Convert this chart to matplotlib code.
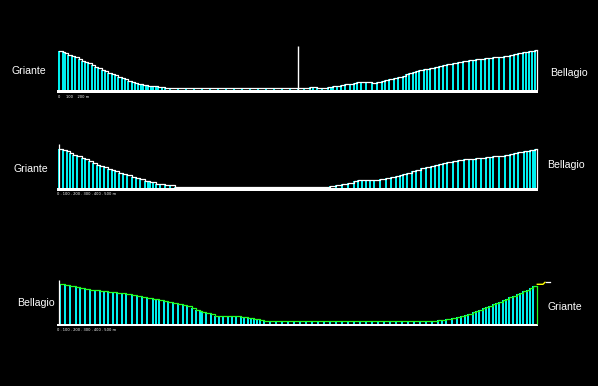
import matplotlib.pyplot as plt

# Sezioni batimetriche Griante - Bellagio (distanza in px, profondita' relativa)
p1_x = [0.7, 4.7, 7.3, 10.3, 13.7, 17.3, 20.7, 23.7, 27, 30.3, 33.7, 37, 40.3, 43.7, 47, 50.3,
        53.7, 57, 60.3, 63.7, 67, 70.3, 73.7, 77, 80.3, 82.8, 85.3, 87.8, 90.3, 92.6, 95, 97.6,
        100.3, 103.6, 107,
        112, 120, 128, 136, 144, 152, 160, 168, 176, 184, 192, 200, 208, 216, 224, 232, 240, 246,
        252, 255.3, 258.7, 264, 270, 272.5, 275, 278.8, 282.7, 287, 291.5, 296, 298.7, 303, 308,
        313.7, 318.7, 323.7, 327, 331, 336, 340.3, 344.7, 348, 351.3, 354.7, 358, 361.3, 366, 369,
        372, 377, 381.3, 385.3, 389.3, 394.7, 400.3, 405.3, 411.3, 414.6, 418, 422.5, 427, 431,
        435.3, 440.6, 446, 452, 456, 460.3, 465.3, 468.3, 471.3, 474.2, 477]
p1_h = [39, 38, 36.7, 35.3, 34, 32.7, 31.3, 29.3, 28, 26.7, 25, 23.3, 21.7, 20.3, 18.7, 17.3,
        16, 14.7, 13.3, 12, 10.7, 9.3, 8, 7, 6, 6, 5, 5, 4.3, 4.3, 3.7, 3.7,
        3, 3, 2,
        1.7, 1.7, 1.7, 1.7, 1.7, 1.7, 1.7, 1.7, 1.7, 1.7, 1.7, 1.7, 1.7, 1.7, 1.7, 1.7, 1.7, 1.7,
        2.7, 2.7, 1.7, 1.7, 3, 3, 4, 4, 5, 6, 6, 7, 8, 8, 8,
        7, 8, 9, 10, 11, 12, 13, 14.3, 15.7, 16.7, 18, 19, 20, 21, 21,
        22, 23, 24, 25, 26, 26.7, 27.7, 28.7, 29.7, 29.7, 30.7, 30.7, 31.7, 31.7,
        33, 33, 34, 35, 36, 37, 38, 38, 39, 39, 40]
p1_end = 479.3
p1_spike_x = [240.3]
p1_spike_h = [44]

p2_x = [0.7, 5.3, 8.7, 12, 15.3, 19.3, 23.7, 27, 31.3, 35.3, 38.7, 42, 46, 50.3, 53.7, 57,
        61.3, 65.3, 69.3, 73.7, 78, 82, 87, 89.5, 92, 95, 98, 102, 107, 112,
        117, 125, 133, 141, 149, 157, 165, 173, 181, 189, 197, 205, 213, 221, 229, 237, 245, 253,
        261, 266,
        272, 278, 284, 290, 296, 300, 304, 308, 312, 316, 322, 328, 333, 338, 342, 345.3, 349.3,
        353.7, 358, 362.7, 368, 372.7, 377, 381.3, 385.3, 389.3, 394.7, 400.3, 406, 411.3, 414.6,
        418, 423, 428, 431.5, 435.3, 441, 447, 452, 456, 460.3, 466, 469, 472, 474.5, 477]
p2_h = [39, 38, 37, 35.7, 33.7, 32.3, 30.3, 29, 27.7, 25.7, 23.7, 22.3, 21, 19.7, 18.3, 17,
        15.7, 14.3, 13, 11.7, 10.3, 9, 7.7, 7.7, 6.3, 6.3, 4.7, 4.7, 3, 3,
        1.6, 1.6, 1.6, 1.6, 1.6, 1.6, 1.6, 1.6, 1.6, 1.6, 1.6, 1.6, 1.6, 1.6, 1.6, 1.6, 1.6, 1.6,
        1.6, 1.6,
        2.5, 3.5, 4.5, 5.5, 7, 8, 8, 8, 8, 8, 9, 10, 11, 12, 13, 14.3, 15.7,
        17, 18.7, 20, 21, 22, 23, 24, 25, 26, 27, 28, 29, 29.7, 29.7,
        30.7, 30.7, 31.7, 31.7, 32.7, 32.7, 33.7, 34.7, 35.7, 36.7, 37.7, 37.7, 38.7, 38.7, 39.7]
p2_end = 479.3

p3_x = [2, 7, 12, 18, 22, 27, 32, 37, 42, 46, 50, 54.5, 59, 63.5, 68, 74, 79, 84, 89, 95, 98,
        101, 106, 110, 115, 120, 125, 129, 134, 138, 142, 144, 148, 153, 157, 161, 165, 170, 174,
        178, 182.7, 186, 189.7, 193, 196, 199, 202,
        206, 212, 218, 224, 230, 236, 242, 248, 254, 260, 266, 272, 278, 284, 290, 296, 302, 308,
        314, 320, 326, 332, 338, 344, 350, 356, 362, 368, 374,
        380.3, 384, 388, 393.7, 398.7, 402.7, 407, 410.3, 414.7, 418, 421.3, 424.7, 428, 431.3,
        434.7, 438, 441.3, 444.7, 448, 451.3, 455.3, 458.7, 462, 465.3, 468.7, 472, 475.3]
p3_h = [39.2, 38.2, 37.2, 36.2, 35.2, 34.2, 33.2, 33.2, 32.2, 32.2, 31.2, 31.2, 30.2, 30.2, 29.2,
        28.2, 27.2, 26.2, 25.2, 24.2, 24.2, 23.2, 22.2, 21.2, 20.2, 19.2, 18.2, 17.2, 15.2, 13.2,
        12.5, 11.2, 10.2, 9.2, 7.5, 7.5, 7.5, 7.5, 7.5, 7.5, 6.2, 6.2, 5.2, 5.2, 4.2, 4.2, 3.2,
        2.2, 2.2, 2.2, 2.2, 2.2, 2.2, 2.2, 2.2, 2.2, 2.2, 2.2, 2.2, 2.2, 2.2, 2.2, 2.2, 2.2, 2.2,
        2.2, 2.2, 2.2, 2.2, 2.2, 2.2, 2.2, 2.2, 2.2, 2.2, 2.2,
        3.2, 3.2, 4.5, 5.5, 6.5, 7.5, 8.8, 9.8, 11.2, 12.5, 13.8, 15.2, 16.5, 17.8,
        19.2, 20.5, 21.8, 23.2, 24.5, 26.2, 27.8, 29.5, 30.8, 32.2, 33.8, 35.5, 37.5]
p3_end = 479.3
p3_tail_x = [479.3, 485, 487]
p3_tail_h = [39.2, 39.2, 41.2]

W, H = 598, 386
fig = plt.figure(figsize=(W / 100, H / 100), dpi=100, facecolor='black')


def add_panel(base_px):
    # 1 unita' = 1 px, quota 0 sulla linea di base
    ax = fig.add_axes([58 / W, (H - base_px - 6) / H, 480 / W, 56 / H])
    ax.set_xlim(0, 480)
    ax.set_ylim(-6, 50)
    ax.axis('off')
    return ax


def draw_profile(ax, xs, hs, end, top_color, band, axis_line=False):
    ax.vlines(xs, 0, hs, color='#00ffff', lw=1.35, clip_on=False)
    ax.step(list(xs) + [end], list(hs) + [hs[-1]], where='post', color=top_color, lw=0.9,
            clip_on=False)
    ax.vlines([end], 0, hs[-1], color=top_color, lw=0.9, clip_on=False)
    ax.fill_between([-1, end + 1], -band, 0, color='white', lw=0, clip_on=False)
    if axis_line:
        ax.vlines([0.5], 0, 44, color='white', lw=0.9, clip_on=False)


ax1 = add_panel(90)
draw_profile(ax1, p1_x, p1_h, p1_end, 'white', 2.8)
ax1.vlines(p1_spike_x, 0, p1_spike_h, color='white', lw=1.0)

ax2 = add_panel(188.3)
draw_profile(ax2, p2_x, p2_h, p2_end, 'white', 2.2, axis_line=True)

ax3 = add_panel(323.5)
draw_profile(ax3, p3_x, p3_h, p3_end, '#22ff22', 2.2, axis_line=True)
ax3.plot(p3_tail_x, p3_tail_h, color='#ffff00', lw=1.0, clip_on=False)
ax3.plot([488, 492], [41.2, 41.2], color='white', lw=0.9, clip_on=False)

# etichette
labels = [
    ("Griante", 11.5, 73.5), ("Bellagio", 550.5, 75.8),
    ("Griante", 13.5, 172.3), ("Bellagio", 547.5, 167.8),
    ("Bellagio", 17, 306.3), ("Griante", 548, 310),
]
for txt, x, y in labels:
    fig.text(x / W, 1 - y / H, txt, color='white', fontsize=7.6,
             family=['Liberation Sans', 'DejaVu Sans'], va='baseline', ha='left')

# scritte minuscole sotto la linea di base
small = [("0     100    200 m", 58, 98), ("0 . 100 . 200 . 300 . 400 . 500 m", 57, 195),
         ("0 . 100 . 200 . 300 . 400 . 500 m", 57, 331)]
for txt, x, y in small:
    fig.text(x / W, 1 - y / H, txt, color='white', fontsize=2.6, va='baseline', ha='left')

plt.savefig('out.png', dpi=100, facecolor='black')
